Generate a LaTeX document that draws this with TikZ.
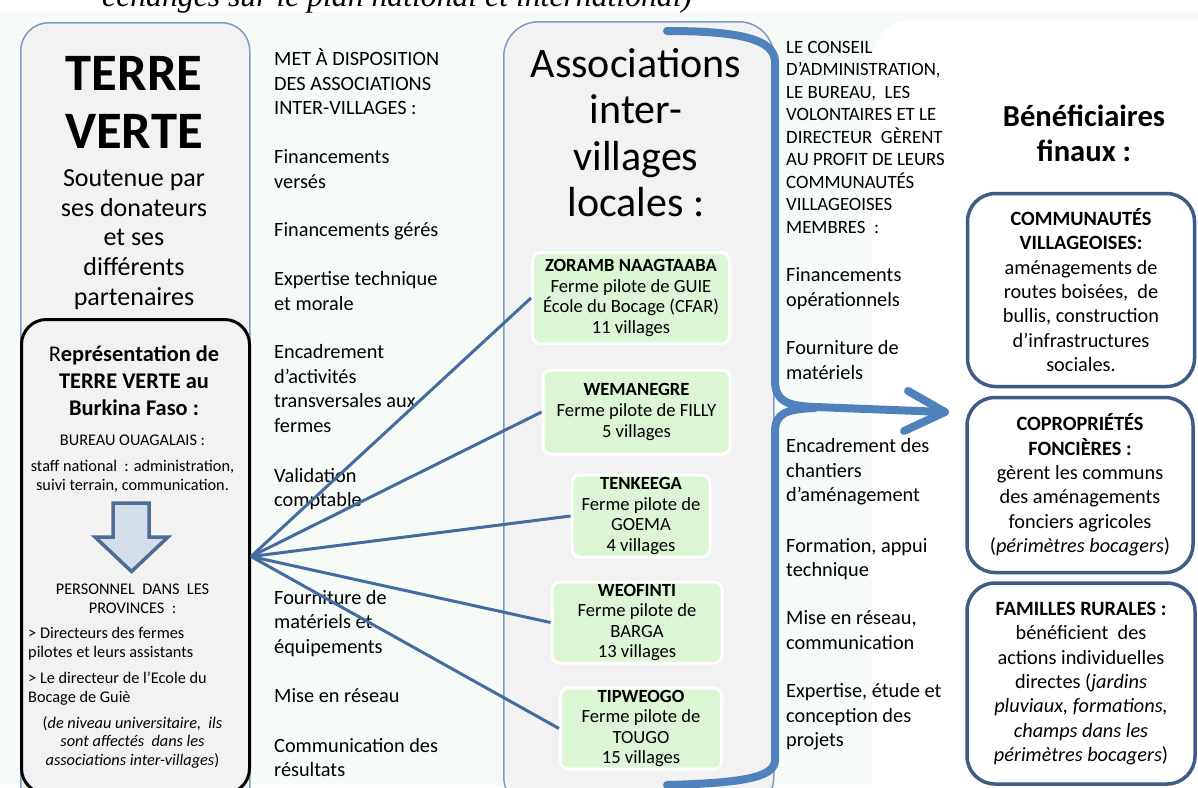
\documentclass[tikz,border=0pt]{standalone}
\usepackage{fontspec}
\setmainfont{Carlito}
\newfontfamily\topfont{Liberation Serif}
\usetikzlibrary{calc}

\definecolor{mint}{RGB}{246,251,248}
\definecolor{panelgray}{RGB}{242,242,242}
\definecolor{panelline}{RGB}{125,155,195}
\definecolor{fanblue}{RGB}{68,108,158}
\definecolor{braceblue}{RGB}{79,129,189}
\definecolor{farmgreen}{RGB}{219,245,213}
\definecolor{boxline}{RGB}{62,92,134}
\definecolor{arrowfill}{RGB}{211,222,234}
\definecolor{arrowline}{RGB}{78,109,149}

\begin{document}
\begin{tikzpicture}[x=1pt, y=-1pt,
    panel/.style={draw=panelline, line width=1.5pt, fill=panelgray, inner sep=0pt},
    txt/.style={anchor=base west, align=left, inner sep=0pt, font=\fontsize{20.3}{24.5}\selectfont},
    smalltxt/.style={anchor=base west, align=left, inner sep=0pt, font=\fontsize{18.8}{22.5}\selectfont},
    note/.style={anchor=base, align=center, inner sep=0pt, font=\fontsize{16.3}{19}\selectfont},
    farm/.style={draw=white, line width=3pt, fill=farmgreen, rounded corners=8pt, align=center, inner sep=0pt, font=\fontsize{18.6}{20.6}\selectfont},
    benef/.style={draw=boxline, line width=3.5pt, fill=white, rounded corners=28pt, align=center, inner sep=0pt, font=\fontsize{20.3}{24.4}\selectfont},
    fan/.style={draw=fanblue, line width=3pt},
    bracebar/.style={draw=braceblue, line width=8pt, line cap=round, line join=round}]

    % page and backgrounds (text nodes sit on the baseline of their last line)
    \path[use as bounding box, clip] (0,0) rectangle (1198,787);
    \fill[mint] (0,12) rectangle (1198,787);
    \fill[white, rounded corners=40pt] (872,20) rectangle (1240,840);
    \node[anchor=base west, inner sep=0pt, font=\topfont\itshape\fontsize{31.7}{34}\selectfont] (topline) at (102,6.5) {échanges sur le plan national et international)};

    % TERRE VERTE
    \node[panel, rounded corners=28pt, minimum width=229pt, minimum height=820pt, anchor=north west] (tv) at (20,22) {};
    \node[anchor=base, align=center, inner sep=0pt, font=\bfseries\fontsize{52.6}{58.3}\selectfont] (tvname) at (134,148.3) {TERRE\\VERTE};
    \node[anchor=base, align=center, inner sep=0pt, font=\fontsize{26}{29.6}\selectfont] (tvsub) at (134,305) {Soutenue par\\ses donateurs\\et ses\\différents\\partenaires};

    \node[draw=black, line width=3pt, fill=panelgray, rounded corners=25pt, minimum width=228pt, minimum height=474pt, anchor=north west, inner sep=0pt] (rep) at (20,318) {};
    \node[anchor=base, align=center, inner sep=0pt, font=\fontsize{22.4}{26.7}\selectfont] (reptitle) at (134,415) {R\textbf{eprésentation de}\\\textbf{TERRE VERTE au}\\\textbf{Burkina Faso :}};
    \node[note] (bureau) at (132.5,445.7) {BUREAU OUAGALAIS :};
    \node[note] (staff) at (132.5,490.7) {staff national~ : administration,\\suivi terrain, communication.};
    \draw[draw=arrowline, line width=3.5pt, fill=arrowfill] (113,503) -- (149,503) -- (149,537) -- (168,537) -- (131.5,571.5) -- (95,537) -- (113,537) -- cycle;
    \node[note] (perso) at (132.5,613.3) {PERSONNEL~ DANS~ LES\\PROVINCES~ :};
    \node[note, anchor=base west, align=left] (dir1) at (28,657.3) {> Directeurs des fermes\\pilotes et leurs assistants};
    \node[note, anchor=base west, align=left] (dir2) at (28,702.3) {> Le directeur de l’Ecole du\\Bocage de Guiè};
    \node[note, font=\fontsize{16.3}{18.4}\selectfont] (univ) at (132.5,765) {(\textit{de niveau universitaire,~ ils}\\\textit{sont affectés~ dans les}\\\textit{associations inter-villages})};

    % what is made available
    \node[txt] (metdispo) at (274,114.7) {MET À DISPOSITION\\DES ASSOCIATIONS\\INTER-VILLAGES :};
    \node[txt] (fverses) at (274,188.3) {Financements\\versés};
    \node[txt] (fgeres) at (274,236) {Financements gérés};
    \node[txt] (expert) at (274,310) {Expertise technique\\et morale};
    \node[txt] (encadr) at (274,432) {Encadrement\\d’activités\\transversales aux\\fermes};
    \node[txt] (valid) at (274,506.7) {Validation\\comptable};
    \node[txt] (fourn) at (274,653.3) {Fourniture de\\matériels et\\équipements};
    \node[txt] (reseau) at (274,702.7) {Mise en réseau};
    \node[txt] (comm) at (274,776.7) {Communication des\\résultats};

    % associations
    \node[panel, rounded corners=35pt, minimum width=270pt, minimum height=790pt, anchor=north west] (assoc) at (503,21) {};
    \node[anchor=base, align=center, inner sep=0pt, font=\fontsize{42}{46.5}\selectfont] (assoctitle) at (636,216.7) {Associations\\inter-\\villages\\locales :};

    \node[farm, minimum width=197pt, minimum height=91pt] (zoramb) at (631,298) {\textbf{ZORAMB NAAGTAABA}\\Ferme pilote de GUIE\\École du Bocage (CFAR)\\11 villages};
    \node[farm, minimum width=187pt, minimum height=84pt] (wemanegre) at (636.5,412) {\textbf{WEMANEGRE}\\Ferme pilote de FILLY\\5 villages};
    \node[farm, minimum width=138pt, minimum height=82pt] (tenkeega) at (641,516) {\textbf{TENKEEGA}\\Ferme pilote de\\GOEMA\\4 villages};
    \node[farm, minimum width=170pt, minimum height=81pt] (weofinti) at (637,622.5) {\textbf{WEOFINTI}\\Ferme pilote de\\BARGA\\13 villages};
    \node[farm, minimum width=161pt, minimum height=81pt] (tipweogo) at (641,728.5) {\textbf{TIPWEOGO}\\Ferme pilote de\\TOUGO\\15 villages};

    \draw[fan] (rep.east) -- (zoramb.west);
    \draw[fan] (rep.east) -- (wemanegre.west);
    \draw[fan] (rep.east) -- (tenkeega.west);
    \draw[fan] (rep.east) -- (weofinti.west);
    \draw[fan] (rep.east) -- (tipweogo.west);

    % brace and arrow
    \draw[bracebar] (667,31) .. controls (735,31) and (775,38) .. (775,62) -- (775,380)
        .. controls (775,400) and (785,406) .. (815,407) -- (944,412);
    \draw[bracebar] (667,785) .. controls (740,783) and (775,778) .. (775,760) -- (775,432)
        .. controls (775,414) and (785,409) .. (815,408);
    \draw[bracebar] (908,391) -- (945,412) -- (904,431);

    % what the associations manage
    \node[smalltxt] (conseil) at (786,233.3) {LE CONSEIL\\D’ADMINISTRATION,\\LE BUREAU,~ LES\\VOLONTAIRES ET LE\\DIRECTEUR~ GÈRENT\\AU PROFIT DE LEURS\\COMMUNAUTÉS\\VILLAGEOISES\\MEMBRES~ :};
    \node[txt] (fop) at (786,306) {Financements\\opérationnels};
    \node[txt] (fmat) at (786,379.3) {Fourniture de\\matériels};
    \node[txt] (chant) at (786,501.7) {Encadrement des\\chantiers\\d’aménagement};
    \node[txt] (form) at (786,576.7) {Formation, appui\\technique};
    \node[txt] (misres) at (786,649.3) {Mise en réseau,\\communication};
    \node[txt] (etude) at (786,746.7) {Expertise, étude et\\conception des\\projets};

    % beneficiaries
    \node[anchor=base, align=center, inner sep=0pt, font=\bfseries\fontsize{30.6}{35}\selectfont] (benefs) at (1084,161.7) {Bénéficiaires\\finaux :};
    \node[benef, minimum width=227pt, minimum height=193pt] (commun) at (1081,290) {\textbf{COMMUNAUTÉS}\\\textbf{VILLAGEOISES:}\\aménagements de\\routes boisées,~ de\\bullis, construction\\d’infrastructures\\sociales.};
    \node[benef, minimum width=226pt, minimum height=175pt] (copro) at (1080,485) {\textbf{COPROPRIÉTÉS}\\\textbf{FONCIÈRES :}\\gèrent les communs\\des aménagements\\fonciers agricoles\\(\textit{périmètres bocagers})};
    \node[benef, minimum width=228pt, minimum height=201pt] (familles) at (1081,683.5) {\textbf{FAMILLES RURALES :}\\bénéficient~ des\\actions individuelles\\directes (\textit{jardins}\\\textit{pluviaux, formations,}\\\textit{champs dans les}\\\textit{périmètres bocagers})};
\end{tikzpicture}
\end{document}
